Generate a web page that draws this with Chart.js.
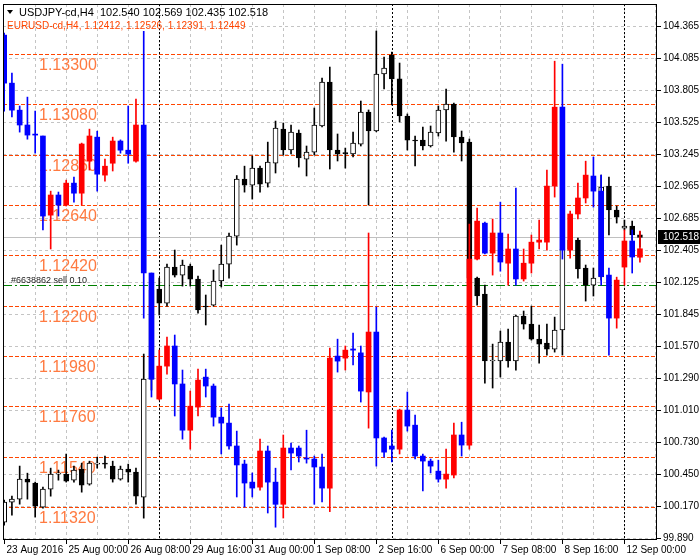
<!DOCTYPE html>
<html><head><meta charset="utf-8">
<script src="https://cdn.jsdelivr.net/npm/chart.js@4/dist/chart.umd.min.js"></script>
<style>html,body{margin:0;padding:0;background:#fff}#wrap{width:700px;height:560px}</style>
</head><body><div id="wrap"><canvas id="c" width="700" height="560"></canvas></div>
<script>
// USDJPY H4 (black/white candles, right axis)
const jO=[100.029,100.204,100.230,100.405,100.370,100.160,100.317,100.449,100.449,100.396,100.492,100.361,100.536,100.545,100.519,100.405,100.492,100.466,100.247,101.279,102.066,101.943,102.258,102.188,102.267,102.153,101.917,101.926,102.136,102.284,102.529,103.026,102.974,103.123,102.992,103.167,103.464,103.281,103.430,103.202,103.263,103.491,103.875,103.281,103.255,103.246,103.333,103.613,103.447,103.945,104.111,103.902,103.578,103.368,103.368,103.316,103.430,103.631,103.683,103.395,103.351,102.162,102.022,101.437,101.437,101.603,101.437,101.830,101.760,101.629,101.594,101.541,101.708,102.416,102.494,102.250,102.101,102.171,102.966,102.757,102.599,102.617,102.540];
const jH=[100.221,100.256,100.519,100.457,100.379,100.335,100.501,100.484,100.624,100.519,100.545,100.562,100.597,100.606,100.562,100.519,100.536,100.501,101.498,102.145,102.162,102.284,102.407,102.319,102.284,102.179,102.014,102.232,102.450,102.555,103.058,103.140,103.228,103.140,103.350,103.534,103.517,103.499,103.456,103.316,103.648,103.910,104.006,103.421,103.298,103.438,103.709,103.631,104.321,104.094,104.137,104.041,103.596,103.403,103.482,103.491,103.666,103.814,103.692,103.447,103.377,102.171,102.101,101.585,101.699,101.716,101.839,101.874,101.917,101.751,101.760,101.821,102.494,102.538,102.512,102.276,102.250,103.062,103.045,102.792,102.669,102.660,102.569];
const jL=[100.003,100.090,100.186,100.230,100.073,100.151,100.256,100.396,100.379,100.379,100.291,100.352,100.501,100.501,100.379,100.396,100.379,100.186,100.064,101.183,101.839,101.917,102.171,102.092,102.092,101.856,101.752,101.917,102.084,102.162,102.450,102.913,102.852,102.913,102.957,103.080,103.237,103.246,103.132,103.054,103.237,103.482,103.115,103.185,103.123,103.220,103.316,102.800,103.440,103.814,103.674,103.526,103.281,103.141,103.281,103.307,103.403,103.359,103.263,103.185,102.101,101.926,101.244,101.201,101.297,101.384,101.358,101.716,101.620,101.419,101.489,101.515,101.489,102.389,102.162,101.961,102.005,102.145,102.538,102.643,102.582,102.494,102.435];
const jC=[100.204,100.230,100.405,100.379,100.169,100.317,100.449,100.457,100.387,100.484,100.352,100.545,100.545,100.536,100.405,100.492,100.466,100.256,101.279,102.057,101.943,102.258,102.188,102.276,102.153,101.883,101.909,102.136,102.284,102.529,103.026,102.974,103.123,102.983,103.176,103.473,103.281,103.438,103.211,103.263,103.499,103.875,103.281,103.246,103.250,103.342,103.613,103.447,103.945,103.998,103.902,103.578,103.368,103.360,103.316,103.438,103.631,103.683,103.395,103.342,102.162,102.005,101.437,101.440,101.603,101.437,101.830,101.760,101.629,101.585,101.541,101.708,102.416,102.494,102.241,102.101,102.162,102.958,102.757,102.695,102.617,102.538,102.518];
// EURUSD H4 overlay (blue = down, red = up)
const eO=[1.13383,1.13173,1.13055,1.12990,1.12950,1.12942,1.12596,1.12684,1.12640,1.12736,1.12692,1.12832,1.12937,1.12771,1.12823,1.12920,1.12880,1.12832,1.12990,1.12343,1.11792,1.11936,1.12024,1.11858,1.11656,1.11757,1.11888,1.11849,1.11713,1.11687,1.11587,1.11508,1.11429,1.11407,1.11565,1.11429,1.11332,1.11578,1.11578,1.11534,1.11530,1.11495,1.11403,1.11980,1.11971,1.12011,1.11994,1.11823,1.12085,1.11622,1.11587,1.11573,1.11744,1.11678,1.11543,1.11521,1.11477,1.11442,1.11460,1.11635,1.11591,1.12404,1.12561,1.12430,1.12518,1.12386,1.12448,1.12317,1.12386,1.12478,1.12478,1.12723,1.13068,1.12443,1.12601,1.12671,1.12767,1.12701,1.12334,1.12146,1.12369,1.12483,1.12412];
const eH=[1.13392,1.13217,1.13073,1.13112,1.13051,1.12942,1.12701,1.12697,1.12749,1.12762,1.12911,1.12972,1.12963,1.12841,1.12937,1.12925,1.13073,1.13103,1.13400,1.12343,1.12006,1.12063,1.12072,1.11919,1.11827,1.11923,1.11923,1.11858,1.11753,1.11770,1.11652,1.11525,1.11469,1.11617,1.11587,1.11490,1.11635,1.11600,1.11587,1.11656,1.11543,1.11552,1.12015,1.12054,1.12024,1.12080,1.12024,1.12518,1.12194,1.11626,1.11656,1.11748,1.11823,1.11722,1.11552,1.11530,1.11525,1.11573,1.11687,1.11691,1.12557,1.12627,1.12566,1.12579,1.12653,1.12513,1.12714,1.12448,1.12509,1.12574,1.12793,1.13269,1.13256,1.12614,1.12736,1.12832,1.12850,1.12771,1.12365,1.12325,1.12531,1.12531,1.12526];
const eL=[1.13051,1.13025,1.12959,1.12928,1.12867,1.12531,1.12448,1.12592,1.12636,1.12653,1.12640,1.12793,1.12701,1.12745,1.12789,1.12867,1.12823,1.12828,1.12146,1.11801,1.11788,1.11901,1.11718,1.11617,1.11573,1.11718,1.11801,1.11674,1.11552,1.11573,1.11364,1.11320,1.11364,1.11394,1.11294,1.11232,1.11272,1.11482,1.11517,1.11512,1.11332,1.11342,1.11300,1.11910,1.11919,1.11941,1.11779,1.11665,1.11499,1.11538,1.11517,1.11552,1.11652,1.11530,1.11390,1.11469,1.11429,1.11403,1.11447,1.11543,1.11573,1.12400,1.12426,1.12334,1.12351,1.12290,1.12290,1.12308,1.12343,1.12448,1.12443,1.12675,1.12404,1.12408,1.12579,1.12649,1.12631,1.12290,1.11984,1.12102,1.12290,1.12343,1.12391];
const eC=[1.13173,1.13055,1.12990,1.12946,1.12946,1.12592,1.12684,1.12640,1.12736,1.12692,1.12907,1.12942,1.12775,1.12810,1.12920,1.12880,1.12863,1.12990,1.12343,1.11879,1.11936,1.12024,1.11858,1.11656,1.11761,1.11875,1.11849,1.11713,1.11687,1.11587,1.11504,1.11425,1.11403,1.11565,1.11429,1.11332,1.11578,1.11556,1.11543,1.11530,1.11495,1.11403,1.11971,1.11958,1.12006,1.12006,1.11827,1.12085,1.11622,1.11560,1.11573,1.11744,1.11674,1.11543,1.11521,1.11499,1.11442,1.11464,1.11635,1.11591,1.12404,1.12570,1.12430,1.12518,1.12391,1.12448,1.12317,1.12386,1.12478,1.12487,1.12723,1.13068,1.12443,1.12601,1.12671,1.12771,1.12701,1.12328,1.12146,1.12312,1.12483,1.12413,1.12449];
const jTicks=[104.365,104.085,103.805,103.525,103.245,102.965,102.685,102.405,102.125,101.845,101.570,101.290,101.010,100.730,100.450,100.170,99.890];
const eLevels=[1.13300,1.13080,1.12860,1.12640,1.12420,1.12200,1.11980,1.11760,1.11540,1.11320];
const xLabels=['23 Aug 2016','25 Aug 00:00','26 Aug 08:00','29 Aug 16:00','31 Aug 00:00','1 Sep 08:00','2 Sep 16:00','6 Sep 00:00','7 Sep 08:00','8 Sep 16:00','12 Sep 00:00'];
const xLabelIdx=[0,8,16,24,32,40,48,56,64,72,80];
const sepIdx=[20,50,80];
const bid=102.518, orderPrice=102.10;

const FONT='"Liberation Sans", Arial, sans-serif';
const pts=(a,b)=>a.map((v,i)=>({x:i,y:[v,b[i]]}));
const eUp=eO.map((v,i)=>eC[i]>=v), jUp=jO.map((v,i)=>jC[i]>=v);

const bgPlugin={id:'bg',
 beforeDatasetsDraw(ch){
  const c=ch.ctx,a=ch.chartArea,x=ch.scales.x,yJ=ch.scales.yJ,yE=ch.scales.yE;
  c.save();c.lineWidth=1;
  c.strokeStyle='#c4c4c4';c.setLineDash([3,3]);
  jTicks.forEach(t=>{const y=Math.round(yJ.getPixelForValue(t))+0.5;c.beginPath();c.moveTo(a.left,y);c.lineTo(a.right,y);c.stroke();});
  for(let i=4;i<=84;i+=4){const px=Math.round(x.getPixelForValue(i))+0.5;c.beginPath();c.moveTo(px,a.top);c.lineTo(px,a.bottom);c.stroke();}
  c.strokeStyle='#000';c.setLineDash([2,2]);
  sepIdx.forEach(i=>{const px=Math.round(x.getPixelForValue(i))+0.5;c.beginPath();c.moveTo(px,a.top);c.lineTo(px,a.bottom);c.stroke();});
  c.strokeStyle='#ff4500';c.setLineDash([4,2]);
  c.font='16px '+FONT;c.fillStyle='#ff7a40';c.textBaseline='alphabetic';
  eLevels.forEach(t=>{const y=Math.round(yE.getPixelForValue(t))+0.5;c.beginPath();c.moveTo(a.left,y);c.lineTo(a.right,y);c.stroke();c.fillText(t.toFixed(5),39,y+15);});
  c.setLineDash([]);c.strokeStyle='#c0c0c0';
  let y=Math.round(yJ.getPixelForValue(bid))+0.5;c.beginPath();c.moveTo(a.left,y);c.lineTo(a.right,y);c.stroke();
  c.strokeStyle='#008000';c.setLineDash([9,3,2,3]);
  y=Math.round(yJ.getPixelForValue(orderPrice))+0.5;c.beginPath();c.moveTo(a.left,y);c.lineTo(a.right,y);c.stroke();
  c.setLineDash([]);c.fillStyle='#222';c.font='9px '+FONT;c.fillText('#6638862 sell 0.10',11,y-3);
  c.restore();
 },
 afterDraw(ch){
  const c=ch.ctx,a=ch.chartArea,x=ch.scales.x,yJ=ch.scales.yJ;
  c.save();c.strokeStyle='#000';c.lineWidth=1;
  c.strokeRect(a.left+0.5,a.top+0.5,a.right-a.left-1,a.bottom-a.top-1);
  c.font='10px '+FONT;c.fillStyle='#000';c.textBaseline='middle';c.textAlign='left';
  jTicks.forEach(t=>{const y=Math.round(yJ.getPixelForValue(t))+0.5;c.beginPath();c.moveTo(a.right,y);c.lineTo(a.right+4,y);c.stroke();c.fillText(t.toFixed(3),a.right+6,y);});
  const by=Math.round(yJ.getPixelForValue(bid));
  c.fillRect(a.right+1,by-7,700-a.right-1,14);c.fillStyle='#fff';c.fillText(bid.toFixed(3),a.right+6,by);
  c.fillStyle='#000';c.textBaseline='alphabetic';
  xLabelIdx.forEach((i,k)=>{const px=Math.round(x.getPixelForValue(i))+0.5;c.beginPath();c.moveTo(px,a.bottom);c.lineTo(px,a.bottom+4);c.stroke();c.fillText(xLabels[k],px+2,a.bottom+13);});
  c.font='11px '+FONT;
  c.beginPath();c.moveTo(7,10);c.lineTo(13,10);c.lineTo(10,14);c.closePath();c.fill();
  c.fillText('USDJPY-cd,H4  102.540 102.569 102.435 102.518',19,16);
  c.font='10px '+FONT;c.fillStyle='#ff4500';
  c.fillText('EURUSD-cd,H4, 1.12412, 1.12526, 1.12391, 1.12449',7,29);
  c.restore();
 }};

const common={type:'bar',grouped:false,borderSkipped:false};
new Chart(document.getElementById('c'),{
 data:{datasets:[
  {...common,order:1,xAxisID:'x',yAxisID:'yE',data:pts(eO,eC),barThickness:5,minBarLength:1,
   backgroundColor:eUp.map(u=>u?'#ff0000':'#0000ff'),borderWidth:0},
  {...common,order:2,xAxisID:'x',yAxisID:'yE',data:pts(eL,eH),barThickness:1,
   backgroundColor:eUp.map(u=>u?'#ff0000':'#0000ff'),borderWidth:0},
  {...common,order:3,xAxisID:'x',yAxisID:'yJ',data:pts(jO,jC),barThickness:5,minBarLength:1,
   backgroundColor:jUp.map(u=>u?'#ffffff':'#000000'),borderColor:'#000',borderWidth:1},
  {...common,order:4,xAxisID:'x',yAxisID:'yJ',data:pts(jL,jH),barThickness:1,
   backgroundColor:'#000',borderWidth:0}
 ]},
 options:{responsive:false,animation:false,devicePixelRatio:1,
  layout:{padding:{left:3,top:4,right:43,bottom:20}},
  plugins:{legend:{display:false},tooltip:{enabled:false}},
  scales:{
   x:{type:'linear',display:false,min:-0.15,max:84.2,offset:false},
   yJ:{type:'linear',display:false,min:99.873,max:104.557},
   yE:{type:'linear',display:false,min:1.11176,max:1.13519}
  }},
 plugins:[bgPlugin]
});
</script></body></html>
